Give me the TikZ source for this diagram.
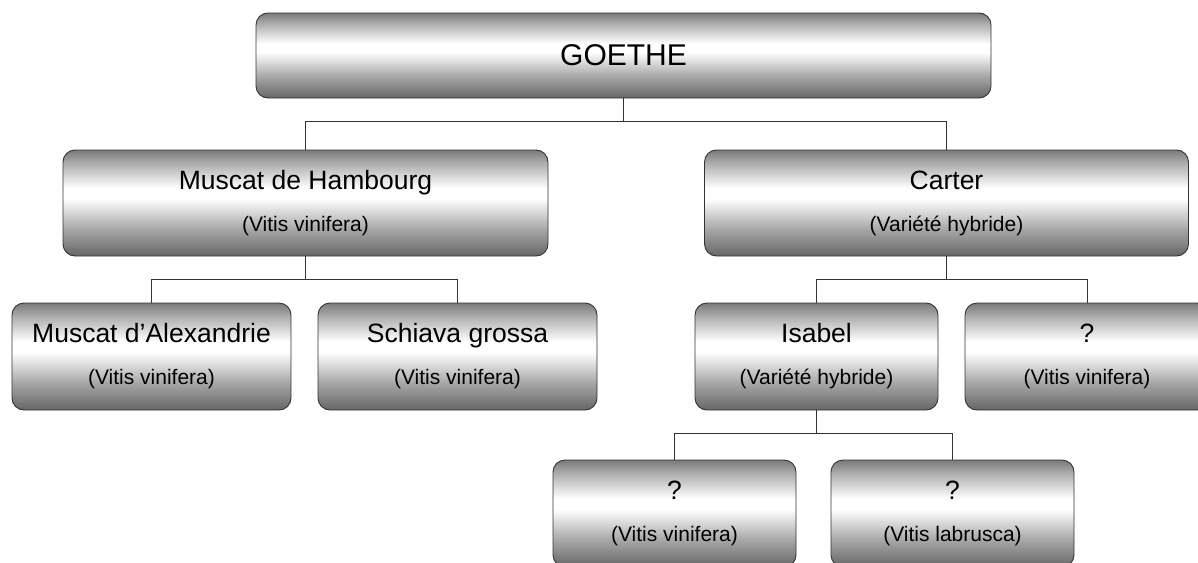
\documentclass[tikz,border=0pt]{standalone}
\usepackage{fontspec}
\setmainfont{Liberation Sans}
\usepackage{tikz}
\pgfdeclareverticalshading{cepage}{100bp}{color(0bp)=(black!60); color(25bp)=(black!60); color(37.5bp)=(black!35); color(52bp)=(white); color(57bp)=(white); color(68bp)=(black!30); color(75bp)=(black!52); color(100bp)=(black!52)}
\newcommand{\cep}[2]{#1\\{\fontsize{21}{25}\selectfont #2}}

\begin{document}
\begin{tikzpicture}[x=1pt,y=-1pt,
    nodes={draw=black!80,line width=0.9pt,rounded corners=12pt,shading=cepage,
      align=center,inner sep=0pt,font=\fontsize{26.5}{42}\selectfont},
    petit/.style={minimum width=243pt,minimum height=107pt},
    lien/.style={draw=black!80,line width=0.8pt}]
  \useasboundingbox (0,0) rectangle (1198,562);
  \clip (0,0) rectangle (1198,562);
  \node[minimum width=735pt,minimum height=85pt,font=\fontsize{30}{36}\selectfont] (goethe) at (623.5,55.5) {GOETHE};
  \node[minimum width=485pt,minimum height=106pt] (hambourg) at (305.5,203) {\cep{Muscat de Hambourg}{(Vitis vinifera)}};
  \node[minimum width=484pt,minimum height=106pt] (carter) at (946.5,203) {\cep{Carter}{(Variété hybride)}};
  \node[petit,minimum width=279pt] (alexandrie) at (151.5,356.5) {\cep{Muscat d’Alexandrie}{(Vitis vinifera)}};
  \node[petit,minimum width=279pt] (schiava) at (457.5,356.5) {\cep{Schiava grossa}{(Vitis vinifera)}};
  \node[petit] (isabel) at (816.5,356.5) {\cep{Isabel}{(Variété hybride)}};
  \node[petit,minimum width=244pt] (inconnu) at (1087,356.5) {\cep{?}{(Vitis vinifera)}};
  \node[petit] (vinifera) at (674.5,513.5) {\cep{?}{(Vitis vinifera)}};
  \node[petit] (labrusca) at (952.5,513.5) {\cep{?}{(Vitis labrusca)}};
  \foreach \p/\a/\b in {goethe/hambourg/carter,hambourg/alexandrie/schiava,
      carter/isabel/inconnu,isabel/vinifera/labrusca}{
    \draw[lien] (\p.south) -- ([yshift=-23pt]\p.south);
    \draw[lien] (\a.north) |- ([yshift=-23pt]\p.south) -| (\b.north);
  }
\end{tikzpicture}
\end{document}
